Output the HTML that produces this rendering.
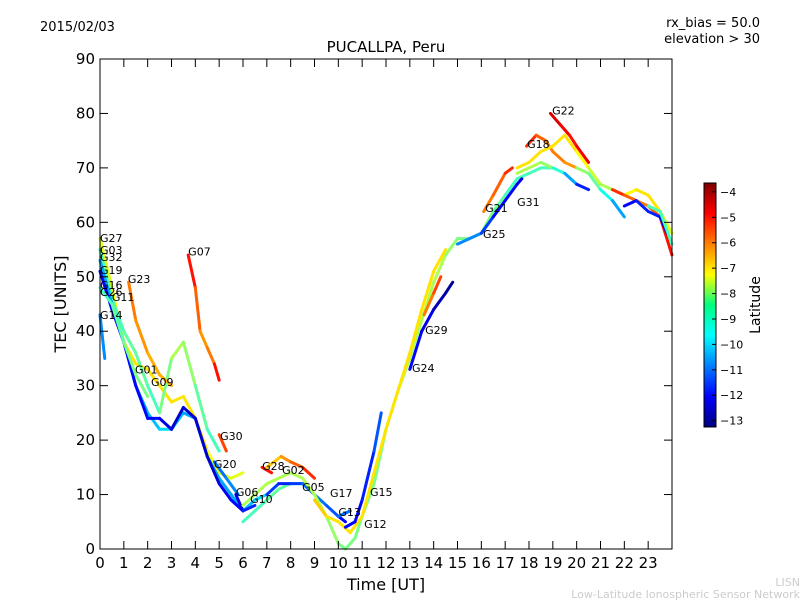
<!DOCTYPE html>
<html><head><meta charset="utf-8"><style>
body{margin:0;background:#fff;}
svg{display:block;font-family:"DejaVu Sans","Liberation Sans",sans-serif;}
</style></head><body>
<svg id="c" width="800" height="600">
<defs><linearGradient id="jet" x1="0" y1="1" x2="0" y2="0">
<stop offset="0" stop-color="#00007f"/><stop offset="0.125" stop-color="#0000ff"/><stop offset="0.375" stop-color="#00ffff"/><stop offset="0.5" stop-color="#00ff7f" /><stop offset="0.625" stop-color="#ffff00"/><stop offset="0.875" stop-color="#ff0000"/><stop offset="1" stop-color="#7f0000"/></linearGradient></defs>
<text x="40" y="31" font-size="13">2015/02/03</text>
<text x="760" y="27" font-size="13" text-anchor="end">rx_bias = 50.0</text>
<text x="760" y="43" font-size="13" text-anchor="end">elevation &gt; 30</text>
<text x="386" y="52" font-size="15" text-anchor="middle">PUCALLPA, Peru</text>
<text x="386" y="590" font-size="16" text-anchor="middle">Time [UT]</text>
<text transform="translate(66,304) rotate(-90)" font-size="16" text-anchor="middle">TEC [UNITS]</text>
<text x="800" y="586" font-size="11" fill="#ccc" text-anchor="end">LISN</text>
<text x="800" y="598" font-size="11" fill="#ccc" text-anchor="end">Low-Latitude Ionospheric Sensor Network</text>
<g id="marks"></g>
<rect x="100" y="59" width="572" height="490" fill="none" stroke="#000"/>
<g id="axes"></g>
<rect x="704" y="183" width="12" height="244" fill="url(#jet)" stroke="#000"/>
<text transform="translate(760,305) rotate(-90)" font-size="14" text-anchor="middle">Latitude</text>
<g id="cbticks"></g>
</svg>
<script>
const xTicks=[0,1,2,3,4,5,6,7,8,9,10,11,12,13,14,15,16,17,18,19,20,21,22,23];
const yTicks=[0,10,20,30,40,50,60,70,80,90];
const cbTicks=[-4,-5,-6,-7,-8,-9,-10,-11,-12,-13];
const tracks=[
[[0,57,-7.5],[0.5,48,-7.5],[1,38,-7],[1.5,34,-7],[2,33,-7],[2.5,30,-7],[3,27,-7],[3.5,28,-7],[4,24,-7],[4.5,18,-7],[5,14,-7.5],[5.5,13,-7.5],[6,14,-7.5]],
[[0,55,-9],[0.5,46,-9],[1,40,-9],[1.5,36,-8.5],[2,30,-9],[2.5,25,-9],[3,35,-8],[3.5,38,-8],[4,30,-8.5],[4.5,22,-9],[5,18,-9]],
[[0,53,-10.5],[0.5,45,-10.5],[1,38,-10.5],[1.5,30,-10.5],[2,25,-10.5],[2.5,22,-10],[3,22,-10],[3.5,25,-10.5],[4,24,-10.5],[4.5,17,-10.5],[5,13,-10.5],[5.5,10,-10.5],[6,7,-10.5],[6.5,9,-10],[7,10,-10]],
[[0,51,-12],[0.5,44,-12],[1,38,-12],[1.5,30,-12],[2,24,-12],[2.5,24,-12],[3,22,-12.5],[3.5,26,-12.5],[4,24,-12.5],[4.5,17,-12.5],[5,12,-12.5],[5.5,9,-12],[6,7,-12]],
[[1.2,49,-6],[1.5,42,-6],[2,36,-6.5],[2.5,32,-6.5],[3,30,-6.5]],
[[3.7,54,-4.5],[4,48,-5.5],[4.2,40,-6],[4.5,37,-6.5],[4.8,34,-5.5],[5,31,-4.5]],
[[0,43,-10.5],[0.2,35,-11]],
[[0,48,-9],[0.5,45,-9],[1,38,-8.5],[1.5,32,-8.5],[2,28,-8.5]],
[[5,21,-6],[5.3,18,-5]],
[[4.8,16,-11],[5.3,13,-11],[5.8,10,-10.5]],
[[5.7,10,-12],[6,7,-12.5],[6.5,8,-11]],
[[6,5,-9],[6.5,7,-9],[7,9,-9],[7.5,11,-8.5],[8,12,-9],[8.5,12,-9]],
[[6.8,15,-5],[7.2,14,-5]],
[[7,15,-7],[7.6,17,-6.5],[8,16,-6],[8.5,15,-5.5],[9,13,-5]],
[[7,10,-11.5],[7.5,12,-11.5],[8,12,-12],[8.5,12,-11],[9,10,-11],[9.5,8,-11],[10,6,-11.5],[10.3,5,-12.5]],
[[6,8,-8],[7,12,-8],[8,14,-8],[8.5,13,-8],[9,10,-8],[9.5,6,-8],[10,1,-8.5],[10.3,0,-8.5],[10.7,2,-8.5],[11,6,-8.5],[11.5,12,-8.5],[12,22,-8.5],[12.5,29,-8],[13,35,-8],[13.5,42,-8],[14,49,-8],[14.5,54,-8],[15,57,-8.5],[15.5,57,-8.5],[16,58,-8.5],[16.5,62,-8.5],[17,65,-9],[17.5,68,-9],[18,69,-9],[18.5,70,-9],[19,70,-9]],
[[9,9,-6.5],[9.5,6,-7],[10,5,-7],[10.5,3,-7],[11,6,-7],[11.5,14,-7],[12,22,-7],[12.5,29,-7],[13,36,-7],[13.5,44,-7],[14,51,-7],[14.5,55,-7]],
[[10.3,4,-12],[10.7,5,-12],[11,9,-12],[11.5,18,-11.5],[11.8,25,-11]],
[[10,6,-11],[10.5,7,-11]],
[[13,33,-12],[13.5,40,-12],[14,44,-12.5],[14.5,47,-13],[14.8,49,-13]],
[[13.6,43,-6],[14,47,-6],[14.3,50,-5]],
[[15,56,-11],[15.5,57,-10.5],[16,58,-11],[16.5,61,-12],[17,64,-12],[17.5,67,-12],[17.7,68,-12.5]],
[[16.1,62,-6],[16.5,65,-6],[17,69,-5.5],[17.3,70,-5]],
[[17.5,69,-8],[18,70,-8],[18.5,71,-8],[19,70,-8.5],[19.5,69,-10],[20,67,-11],[20.5,66,-12.5]],
[[17.9,74,-5],[18.3,76,-5.5],[18.7,75,-6],[19,73,-6],[19.5,71,-6],[20,70,-6.5]],
[[18.9,80,-4.5],[19.3,78,-4.5],[19.7,76,-5],[20,74,-5],[20.5,71,-4.5]],
[[17.5,70,-7],[18,71,-7],[18.5,73,-7],[19,74,-7],[19.5,76,-7],[20,73,-7],[20.5,70,-7.5],[21,67,-8],[21.5,66,-8],[22,65,-7.5],[22.5,66,-7],[23,65,-7],[23.5,62,-7],[24,58,-8]],
[[20,70,-8],[20.5,69,-8.5],[21,66,-9],[21.5,64,-10],[22,61,-11]],
[[21.5,66,-5],[22,65,-5.5],[22.5,64,-6],[23,63,-6],[23.5,61,-5.5],[24,54,-4.5]],
[[22,63,-12],[22.5,64,-12],[23,62,-11.5],[23.5,61,-12],[23.8,58,-12.5]],
[[23,63,-9],[23.5,62,-9],[24,56,-9]]
];
const labels=[["G27",0,57.1],["G03",0,54.9],["G32",0,53.6],["G19",0,51.2],["G23",1.17,49.6],["G07",3.7,54.6],["G16",0,48.5],["G26",0,47.2],["G11",0.5,46.3],["G14",0,43],["G01",1.47,33],["G09",2.14,30.7],["G30",5.04,20.8],["G20",4.78,15.6],["G28",6.8,15.2],["G02",7.64,14.5],["G06",5.7,10.5],["G10",6.3,9.2],["G05",8.48,11.4],["G17",9.65,10.3],["G13",10,6.8],["G15",11.33,10.5],["G12",11.08,4.6],["G24",13.09,33.2],["G29",13.64,40.2],["G25",16.07,57.9],["G21",16.16,62.6],["G31",17.5,63.7],["G18",17.92,74.4],["G22",18.97,80.5]];
const NS="http://www.w3.org/2000/svg";
const X=t=>100+t*572/24, Y=v=>549-v*490/90;
const CB=l=>183+(-3.65-l)*244/9.6;
function jet(l){let f=(-3.65-l)/9.6;f=1-Math.min(1,Math.max(0,f));
 const c=x=>Math.round(255*Math.min(1,Math.max(0,1.5-Math.abs(4*f-x))));
 return `rgb(${c(3)},${c(2)},${c(1)})`;}
function mk(tag,a,p){const e=document.createElementNS(NS,tag);for(const k in a)e.setAttribute(k,a[k]);p.appendChild(e);return e;}
const marks=document.getElementById('marks'),axes=document.getElementById('axes'),cbt=document.getElementById('cbticks');
tracks.forEach((tr,i)=>{const g=mk('g',{},marks);
 
 
 for(let j=0;j<tr.length-1;j++){const a=tr[j],b=tr[j+1];
  const s=mk('line',{x1:X(a[0]),y1:Y(a[1]),x2:X(b[0]),y2:Y(b[1]),stroke:jet((a[2]+b[2])/2),'stroke-width':3,'stroke-linecap':'round'},g);
  
  }
});
labels.forEach(l=>{const t=mk('text',{x:X(l[1]),y:Y(l[2])+4,'font-size':11},marks);t.textContent=l[0];
 
 });
xTicks.forEach(v=>{const x=X(v);mk('line',{x1:x,y1:549,x2:x,y2:541,stroke:'#000'},axes);mk('line',{x1:x,y1:59,x2:x,y2:67,stroke:'#000'},axes);
 const t=mk('text',{x:x,y:568,'font-size':15,'text-anchor':'middle'},axes);t.textContent=v;
 
 });
yTicks.forEach(v=>{const y=Y(v);mk('line',{x1:100,y1:y,x2:108,y2:y,stroke:'#000'},axes);mk('line',{x1:672,y1:y,x2:664,y2:y,stroke:'#000'},axes);
 const t=mk('text',{x:95,y:y+5,'font-size':15,'text-anchor':'end'},axes);t.textContent=v;
 
 });
cbTicks.forEach(v=>{const y=CB(v);mk('line',{x1:712,y1:y,x2:716,y2:y,stroke:'#000'},cbt);
 const t=mk('text',{x:720,y:y+4,'font-size':11},cbt);t.textContent='\u2212'+(-v);
 
 });
</script>
</body></html>
